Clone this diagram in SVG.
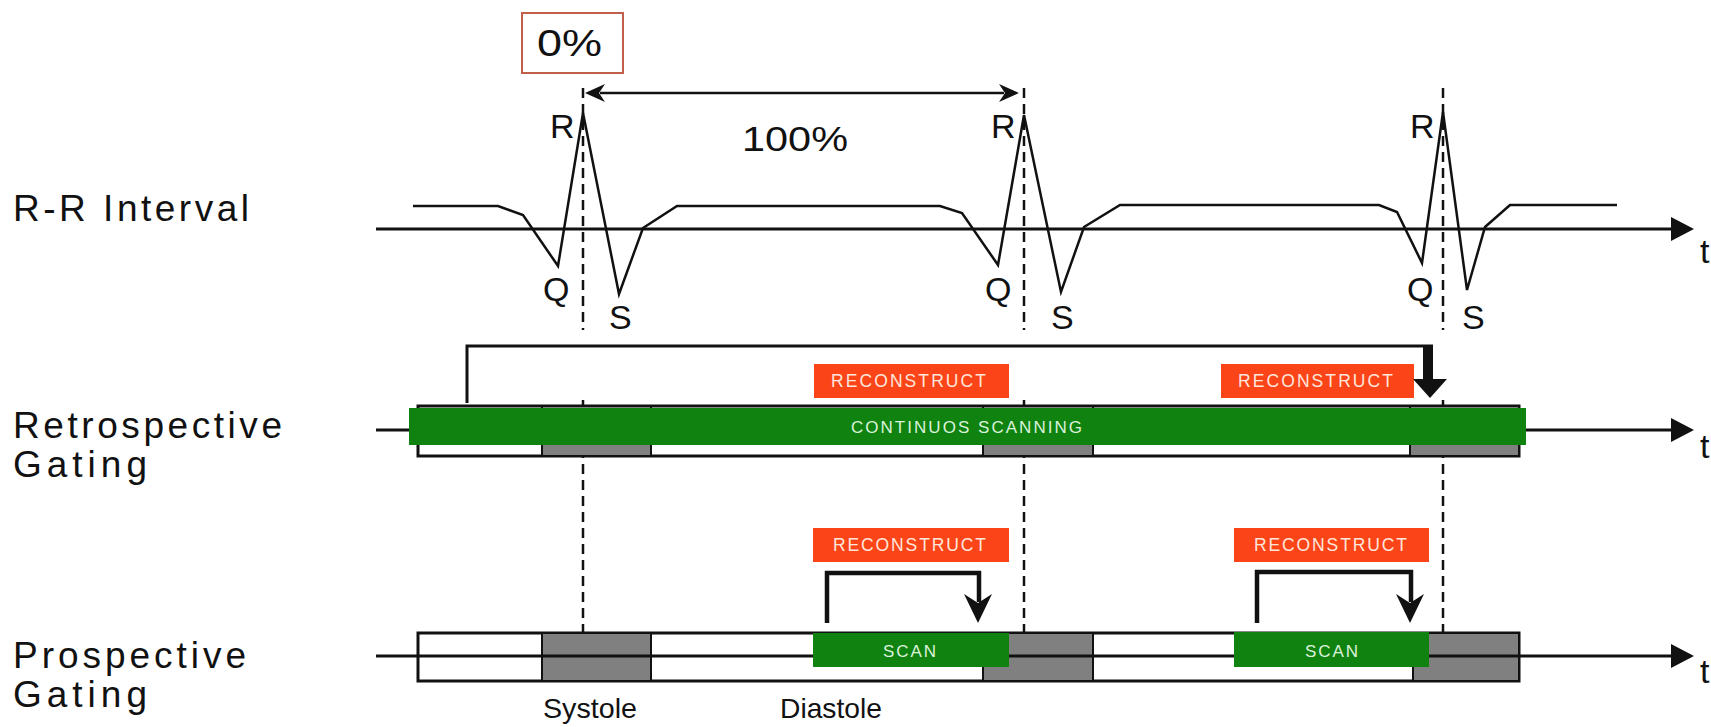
<svg xmlns="http://www.w3.org/2000/svg" width="1711" height="727" viewBox="0 0 1711 727">
<style>
text{font-family:"Liberation Sans",Arial,sans-serif;fill:#111}
.lbl{font-size:37px}
.wave{font-size:34px}
.ax{stroke:#111;stroke-width:3;fill:none}
.ecg{stroke:#111;stroke-width:2.5;fill:none;stroke-linejoin:miter}
.dash{stroke:#111;stroke-width:2.5;stroke-dasharray:10 6;fill:none}
.box{fill:#fff;stroke:#111;stroke-width:3}
.gray{fill:#808080;stroke:#111;stroke-width:2}
.green{fill:#0f820f}
.red{fill:#fb4417}
.rtxt{font-size:17.5px;fill:#ffe6dc}
.gtxt{font-size:17px;fill:#dcf2dc}
.brk{stroke:#111;stroke-width:4.5;fill:none}
.head{fill:#111}
</style>
<rect width="1711" height="727" fill="#fff"/>

<g id="row-labels">
<text class="lbl" x="13" y="221" textLength="236" lengthAdjust="spacing">R-R Interval</text>
<text class="lbl" x="13" y="438" textLength="269" lengthAdjust="spacing">Retrospective</text>
<text class="lbl" x="13" y="477" textLength="134" lengthAdjust="spacing">Gating</text>
<text class="lbl" x="13" y="668" textLength="233" lengthAdjust="spacing">Prospective</text>
<text class="lbl" x="13" y="707" textLength="134" lengthAdjust="spacing">Gating</text>
</g>

<g id="connectors">
<path class="dash" d="M583,88 V330 M583,400 V633 M1024,88 V330 M1024,400 V633 M1443,88 V330 M1443,400 V633"/>
<line x1="600" y1="93" x2="1004" y2="93" stroke="#111" stroke-width="2.5"/>
<path class="head" d="M585,93 L605,84 L599,93 L605,102 Z"/>
<path class="head" d="M1019,93 L999,84 L1005,93 L999,102 Z"/>
<line class="ax" x1="376" y1="229" x2="1674" y2="229"/>
<path class="head" d="M1694,229 L1671,217 L1671,241 Z"/>
<line class="ax" x1="376" y1="430" x2="1674" y2="430"/>
<path class="head" d="M1694,430 L1671,418 L1671,442 Z"/>
<line class="ax" x1="376" y1="656" x2="1674" y2="656"/>
<path class="head" d="M1694,656 L1671,644 L1671,668 Z"/>
</g>

<g id="ecg">
<polyline class="ecg" points="413,206 498,206 523,215 558,266 583,113 619,294 643,228 677,206 940,206 962,213 998,265 1024,115 1061,292 1084,227 1120,205 1379,205 1397,212 1422,263 1443,112 1467,290 1485,227 1510,205 1617,205"/>
<text class="wave" x="550" y="138">R</text>
<text class="wave" x="991" y="138">R</text>
<text class="wave" x="1410" y="138">R</text>
<text class="wave" x="543" y="301">Q</text>
<text class="wave" x="985" y="301">Q</text>
<text class="wave" x="1407" y="301">Q</text>
<text class="wave" x="609" y="329">S</text>
<text class="wave" x="1051" y="329">S</text>
<text class="wave" x="1462" y="329">S</text>
<text class="wave" x="1700" y="263">t</text>
</g>

<g id="zero-pct">
<rect x="522" y="13" width="101" height="60" fill="#fff" stroke="#c0604a" stroke-width="2"/>
<text x="537" y="56" font-size="36" textLength="65" lengthAdjust="spacingAndGlyphs">0%</text>
</g>
<g id="hundred-pct">
<text x="742" y="151" font-size="35" textLength="106" lengthAdjust="spacingAndGlyphs">100%</text>
</g>

<g id="retrospective">
<rect class="box" x="418" y="406" width="1101" height="50"/>
<rect class="gray" x="542" y="406" width="109" height="50"/>
<rect class="gray" x="983" y="406" width="110" height="50"/>
<rect class="gray" x="1410" y="406" width="109" height="50"/>
<rect class="green" x="409" y="408" width="1117" height="37"/>
<text class="gtxt" x="851" y="433" textLength="231" lengthAdjust="spacing">CONTINUOS SCANNING</text>
<rect class="red" x="814" y="364" width="195" height="34"/>
<text class="rtxt" x="831" y="387" textLength="155" lengthAdjust="spacing">RECONSTRUCT</text>
<rect class="red" x="1221" y="364" width="193" height="34"/>
<text class="rtxt" x="1238" y="387" textLength="155" lengthAdjust="spacing">RECONSTRUCT</text>
<polyline points="467,403 467,346 1433,346" fill="none" stroke="#111" stroke-width="3"/>
<line x1="1428" y1="345" x2="1428" y2="382" stroke="#111" stroke-width="10"/>
<path class="head" d="M1413,379 L1447,379 L1430,398 Z"/>
<text class="wave" x="1700" y="458">t</text>
</g>

<g id="prospective">
<rect class="box" x="418" y="633" width="1101" height="48"/>
<rect class="gray" x="542" y="633" width="109" height="48"/>
<rect class="gray" x="983" y="633" width="110" height="48"/>
<rect class="gray" x="1413" y="633" width="106" height="48"/>
<line x1="418" y1="656" x2="1519" y2="656" stroke="#111" stroke-width="3"/>
<rect class="green" x="813" y="633" width="196" height="34"/>
<text class="gtxt" x="883" y="657" textLength="53" lengthAdjust="spacing">SCAN</text>
<rect class="green" x="1234" y="632" width="195" height="35"/>
<text class="gtxt" x="1305" y="657" textLength="53" lengthAdjust="spacing">SCAN</text>
<rect class="red" x="813" y="528" width="196" height="34"/>
<text class="rtxt" x="833" y="551" textLength="153" lengthAdjust="spacing">RECONSTRUCT</text>
<rect class="red" x="1234" y="528" width="195" height="34"/>
<text class="rtxt" x="1254" y="551" textLength="153" lengthAdjust="spacing">RECONSTRUCT</text>
<polyline class="brk" points="827,623 827,573 979,573 979,602"/>
<path class="head" d="M978,623 L964,594 L978,603 L992,594 Z"/>
<polyline class="brk" points="1257,623 1257,572 1411,572 1411,602"/>
<path class="head" d="M1410,623 L1396,594 L1410,603 L1424,594 Z"/>
<text class="wave" x="1700" y="683">t</text>
<text x="543" y="718" font-size="28" textLength="94" lengthAdjust="spacingAndGlyphs">Systole</text>
<text x="780" y="718" font-size="28" textLength="102" lengthAdjust="spacingAndGlyphs">Diastole</text>
</g>
</svg>
